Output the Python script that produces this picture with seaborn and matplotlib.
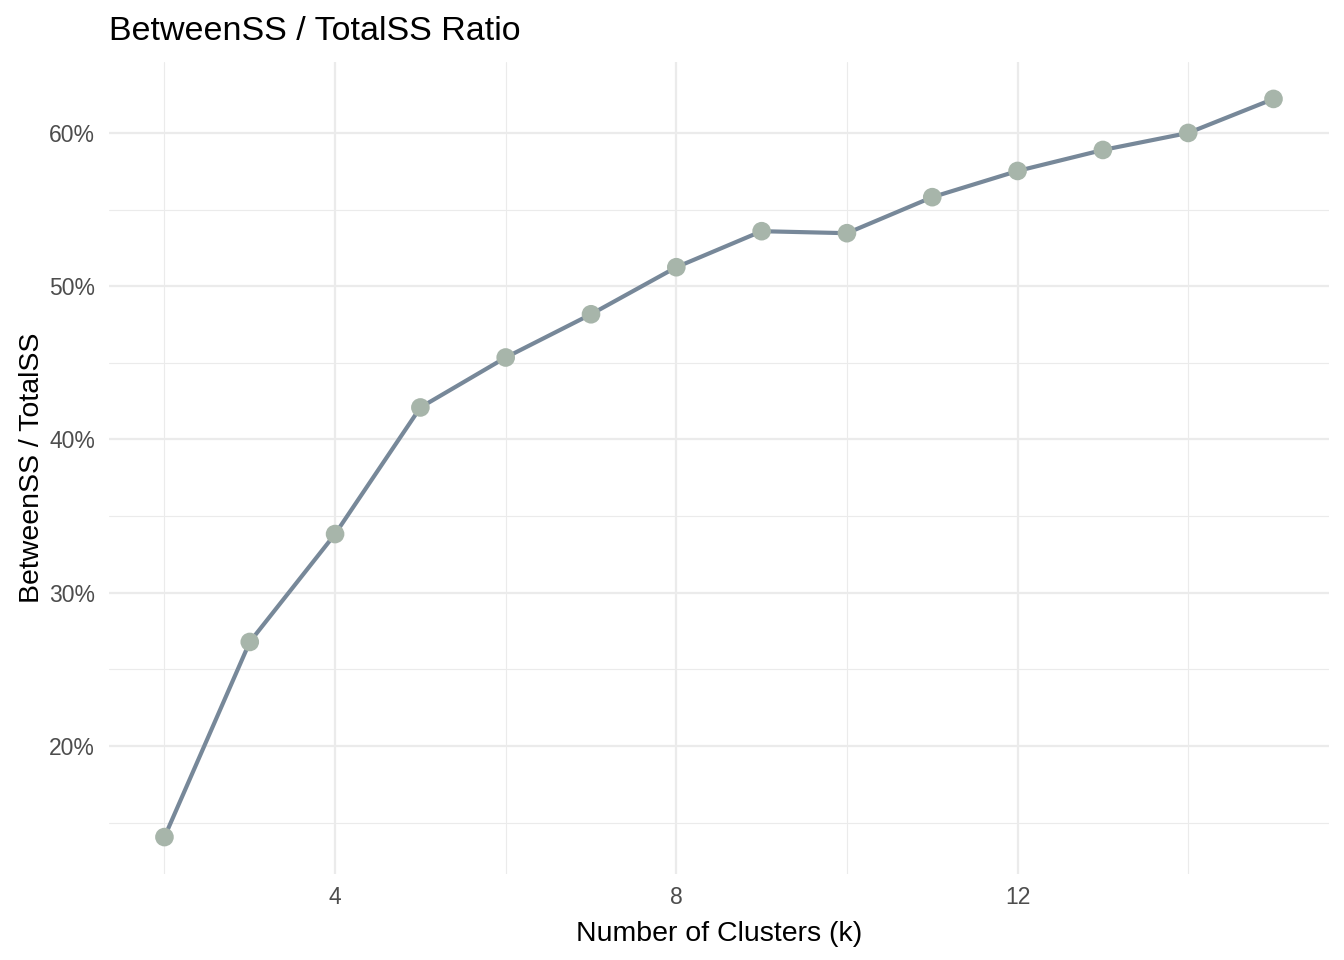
import matplotlib
matplotlib.use("Agg")
import matplotlib.pyplot as plt
from matplotlib.ticker import FixedLocator, FuncFormatter
import pandas as pd
import seaborn as sns

# --- data ---
k_values = [2, 3, 4, 5, 6, 7, 8, 9, 10, 11, 12, 13, 14, 15]
ratio_pct = [14.06, 26.79, 33.83, 42.09, 45.35, 48.17, 51.24, 53.59, 53.46,
             55.81, 57.52, 58.89, 60.0, 62.22]
x_ticks = [4, 8, 12]
x_minor = [2, 6, 10, 14]
y_ticks = [20, 30, 40, 50, 60]
y_minor = [15, 25, 35, 45, 55]

LINE_COLOR = "#778899"
POINT_COLOR = "#A7B5AA"
GRID_COLOR = "#EBEBEB"

df = pd.DataFrame({"k": k_values, "ratio": ratio_pct})

sns.set_theme(style="white")
plt.rcParams["font.family"] = ["Liberation Sans", "DejaVu Sans"]

fig = plt.figure(figsize=(13.44, 9.6), dpi=100)
ax = fig.add_axes([0.0811, 0.0896, 0.9077, 0.8458])

sns.lineplot(data=df, x="k", y="ratio", color=LINE_COLOR, linewidth=3.0, ax=ax, zorder=3)
sns.scatterplot(data=df, x="k", y="ratio", color=POINT_COLOR, s=180, edgecolor="none",
                ax=ax, zorder=4)

# ggplot-like 5% expansion
xr = max(k_values) - min(k_values)
ax.set_xlim(min(k_values) - 0.05 * xr, max(k_values) + 0.05 * xr)
yr = max(ratio_pct) - min(ratio_pct)
ax.set_ylim(min(ratio_pct) - 0.05 * yr, max(ratio_pct) + 0.05 * yr)

ax.xaxis.set_major_locator(FixedLocator(x_ticks))
ax.xaxis.set_minor_locator(FixedLocator(x_minor))
ax.yaxis.set_major_locator(FixedLocator(y_ticks))
ax.yaxis.set_minor_locator(FixedLocator(y_minor))
ax.yaxis.set_major_formatter(FuncFormatter(lambda v, p: f"{v:.0f}%"))

ax.grid(True, which="major", color=GRID_COLOR, linewidth=1.6)
ax.grid(True, which="minor", color=GRID_COLOR, linewidth=0.8)
ax.set_axisbelow(True)
for sp in ax.spines.values():
    sp.set_visible(False)

ax.tick_params(axis="both", which="both", length=0, labelsize=16.5, labelcolor="#4D4D4D")
ax.tick_params(axis="x", pad=9)
ax.tick_params(axis="y", pad=10)

ax.set_xlabel("Number of Clusters (k)", fontsize=20.5, color="black", labelpad=8)
ax.set_ylabel("BetweenSS / TotalSS", fontsize=20.5, color="black", labelpad=3)
ax.set_title("BetweenSS / TotalSS Ratio", fontsize=24.5, loc="left", x=0.0, pad=16,
             color="black")

fig.savefig("out.png", dpi=100, facecolor="white")
